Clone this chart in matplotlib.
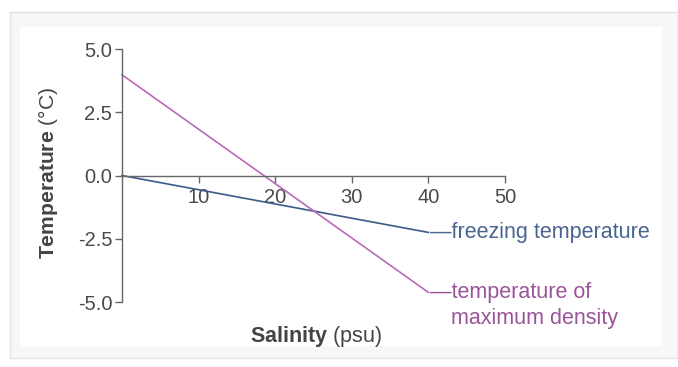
import matplotlib
matplotlib.use("Agg")
import matplotlib.pyplot as plt
from matplotlib.patches import Rectangle

plt.rcParams['font.family'] = ['Liberation Sans', 'DejaVu Sans']
plt.rcParams['mathtext.fontset'] = 'custom'
plt.rcParams['mathtext.rm'] = 'Liberation Sans'
plt.rcParams['mathtext.bf'] = 'Liberation Sans:bold'

salinity = [0, 40]
freezing_temp = [0.0, -2.25]
max_density_temp = [3.98, -4.62]
x_ticks = [10, 20, 30, 40, 50]
y_ticks = [-5.0, -2.5, 0.0, 2.5, 5.0]
freeze_label = "—freezing temperature"
density_label_1 = "—temperature of"
density_label_2 = "maximum density"

W, H = 678, 367
fig = plt.figure(figsize=(W / 100, H / 100), dpi=100)
fig.patch.set_facecolor('white')
fig.add_artist(Rectangle((10 / W, 1 - 358 / H), 668 / W, 346 / H, transform=fig.transFigure,
                         facecolor='#f7f7f7', edgecolor='#e2e2e2', lw=1, zorder=-2))
fig.add_artist(Rectangle((20 / W, 1 - 346 / H), 642 / W, 319 / H, transform=fig.transFigure,
                         facecolor='white', edgecolor='none', zorder=-1))

ax = fig.add_axes([122 / W, 1 - 302 / H, (505 - 122) / W, (302 - 49) / H])
ax.set_facecolor('none')
ax.set_xlim(0, 50)
ax.set_ylim(-5, 5)

blue = '#3d5a88'
purple = '#b86ab8'
ax.plot(salinity, freezing_temp, color=blue, lw=1.2, clip_on=False)
ax.plot(salinity, max_density_temp, color=purple, lw=1.2, clip_on=False)

fs_lab = 15.5
ax.annotate(freeze_label, (salinity[-1], freezing_temp[-1]), xytext=(1, 0),
            textcoords='offset points', color='#4a6590', fontsize=fs_lab,
            ha='left', va='center')
ax.annotate(density_label_1, (salinity[-1], max_density_temp[-1]), xytext=(1, 0),
            textcoords='offset points', color='#9a559a', fontsize=fs_lab,
            ha='left', va='center')
ax.annotate(density_label_2, (salinity[-1], max_density_temp[-1]), xytext=(1 + fs_lab, -18.5),
            textcoords='offset points', color='#9a559a', fontsize=fs_lab,
            ha='left', va='center')

for s in ['top', 'right']:
    ax.spines[s].set_visible(False)
ax.spines['bottom'].set_position(('data', 0))
ax.spines['bottom'].set_bounds(0, 50)
ax.spines['left'].set_bounds(-5, 5)
for s in ['bottom', 'left']:
    ax.spines[s].set_color('#666666')
    ax.spines[s].set_linewidth(1.0)

ax.set_xticks(x_ticks)
ax.set_xticklabels([str(v) for v in x_ticks])
ax.set_yticks(y_ticks)
ax.set_yticklabels([f"{v:.1f}" for v in y_ticks])
ax.tick_params(axis='both', colors='#666666', labelcolor='#4a4a4a', labelsize=14.5, length=5, width=1)
ax.tick_params(axis='x', pad=4)
ax.tick_params(axis='y', pad=2)

fig.text(250 / W, 1 - 342 / H, r"$\bf{Salinity}$ (psu)", fontsize=fs_lab, color='#444444',
         ha='left', va='baseline')
fig.text(48 / W, 1 - 173 / H, r"$\bf{Temperature}$ (°C)", fontsize=15.2, color='#444444',
         ha='center', va='center', rotation=90)

fig.savefig('out.png', dpi=100, facecolor='white')
